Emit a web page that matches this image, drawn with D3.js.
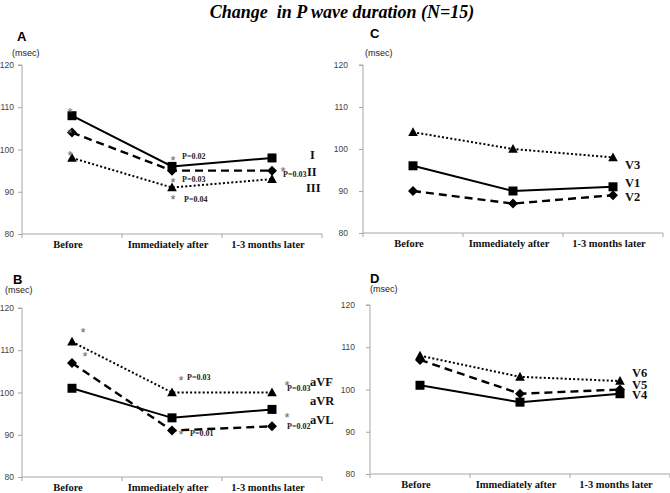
<!DOCTYPE html>
<html><head><meta charset="utf-8">
<script src="https://cdn.jsdelivr.net/npm/d3@7"></script>
<style>body{margin:0;background:#fff}</style>
</head><body>
<svg id="chart" width="670" height="493"></svg>
<script>
// ---------- data ----------
const categories = ["Before", "Immediately after", "1-3 months later"];
const yTicks = [80, 90, 100, 110, 120];
const titleText = "Change  in P wave duration (N=15)";

const panelA_I   = [108, 96, 98];
const panelA_II  = [104, 95, 95];
const panelA_III = [98, 91, 93];

const panelB_aVR = [101, 94, 96];
const panelB_aVL = [107, 91, 92];
const panelB_aVF = [112, 100, 100];

const panelC_V1 = [96, 90, 91];
const panelC_V2 = [90, 87, 89];
const panelC_V3 = [104, 100, 98];

const panelD_V4 = [101, 97, 99];
const panelD_V5 = [107, 99, 100];
const panelD_V6 = [108, 103, 102];

// annotations: [category index, pixel dx, value, text, kind]
const notesA = [
  [0,-2,109.3,"*","star"],[0,-2,104.4,"*","star"],[0,-2,99.2,"*","star"],
  [1,1,98.0,"*","star"],[1,10,98.5,"P=0.02","p"],
  [1,1,92.8,"*","star"],[1,10,93.0,"P=0.03","p"],
  [1,1,88.8,"*","star"],[1,12,88.3,"P=0.04","p"],
  [2,11,95.4,"*","star"],[2,11,94.2,"P=0.03","p"]
];
const notesB = [
  [0,11,114.8,"*","star"],[0,13,109.2,"*","star"],
  [1,9,103.4,"*","star"],[1,15,103.6,"P=0.03","p"],
  [1,9,90.7,"*","star"],[1,18,90.4,"P=0.01","p"],
  [2,15,102.2,"*","star"],[2,15,101.1,"P=0.03","p"],
  [2,15,94.7,"*","star"],[2,15,92.1,"P=0.02","p"]
];
const labelsA = [["I",38,98.9],["II",35,94.9],["III",34,91.1]];
const labelsB = [["aVF",38,102.5],["aVR",38,98.2],["aVL",38,93.7]];
const labelsC = [["V3",12,96.2],["V1",12,92.1],["V2",12,88.6]];
const labelsD = [["V6",12,104.1],["V5",12,101.3],["V4",12,98.7]];

const panels = [
  {letter:"A", x0:22, x1:322, yTop:65, yBot:234, tickGap:8,
   letterX:17, letterY:41, msecX:12, msecY:56,
   series:[[panelA_I,"square","solid"],[panelA_II,"diamond","dashed"],[panelA_III,"triangle","dotted"]],
   notes:notesA, labels:labelsA},
  {letter:"C", x0:363, x1:663, yTop:65, yBot:233, tickGap:15,
   letterX:370, letterY:38, msecX:365, msecY:56,
   series:[[panelC_V1,"square","solid"],[panelC_V2,"diamond","dashed"],[panelC_V3,"triangle","dotted"]],
   notes:[], labels:labelsC},
  {letter:"B", x0:22, x1:322, yTop:308, yBot:477, tickGap:8,
   letterX:13, letterY:284, msecX:5, msecY:293,
   series:[[panelB_aVR,"square","solid"],[panelB_aVL,"diamond","dashed"],[panelB_aVF,"triangle","dotted"]],
   notes:notesB, labels:labelsB},
  {letter:"D", x0:370, x1:670, yTop:305, yBot:474, tickGap:15,
   letterX:370, letterY:283, msecX:370, msecY:292,
   series:[[panelD_V4,"square","solid"],[panelD_V5,"diamond","dashed"],[panelD_V6,"triangle","dotted"]],
   notes:[], labels:labelsD}
];

const svg = d3.select("#chart");
const serif = "'Liberation Serif','Times New Roman',serif";
const sans = "'Liberation Sans',Arial,sans-serif";

svg.append("text").attr("x",342).attr("y",18).attr("text-anchor","middle")
  .attr("font-family",serif).attr("font-weight","bold").attr("font-style","italic")
  .attr("font-size",18).style("white-space","pre").text(titleText);

const dashes = {solid:null, dashed:"8,5", dotted:"2,2.2"};
const widths = {solid:2, dashed:2.4, dotted:2};

function markerPath(kind){
  if(kind==="square") return "M-4.5,-4.5H4.5V4.5H-4.5Z";
  if(kind==="diamond") return "M0,-5L5,0L0,5L-5,0Z";
  return "M0,-5L4.8,3.8H-4.8Z";
}

panels.forEach(p=>{
  const g = svg.append("g");
  const x = d3.scaleBand().domain(categories).range([p.x0,p.x1]).padding(0);
  const y = d3.scaleLinear().domain([80,120]).range([p.yBot,p.yTop]);
  const cx = i => x(categories[i]) + x.bandwidth()/2;

  // y axis
  const yAxis = g.append("g").attr("transform",`translate(${p.x0},0)`)
    .call(d3.axisLeft(y).tickValues(yTicks).tickSize(4).tickPadding(p.tickGap-4).tickFormat(d3.format("d")));
  yAxis.select(".domain").attr("stroke","#a6a6a6").attr("d",`M-4,${p.yTop}H0V${p.yBot}`);
  yAxis.selectAll(".tick line").attr("stroke","#a6a6a6");
  yAxis.selectAll(".tick text").attr("font-family",sans).attr("font-size",8.5).attr("fill","#444");

  // x axis
  const xAxis = g.append("g").attr("transform",`translate(0,${p.yBot})`)
    .call(d3.axisBottom(x).tickSize(0).tickPadding(6.5));
  xAxis.select(".domain").attr("stroke","#a6a6a6").attr("d",`M${p.x0},0H${p.x1}`);
  xAxis.selectAll(".tick text").attr("font-family",serif).attr("font-weight","bold")
    .attr("font-size",10.5).attr("fill","#111").attr("dx",-4);
  const bounds = categories.map(c=>x(c)).concat([p.x1]);
  g.selectAll(".xt").data(bounds).join("line").attr("class","xt")
    .attr("x1",d=>d).attr("x2",d=>d).attr("y1",p.yBot).attr("y2",p.yBot+4).attr("stroke","#a6a6a6");

  // panel letter & unit
  g.append("text").attr("x",p.letterX).attr("y",p.letterY).attr("font-family",sans)
    .attr("font-weight","bold").attr("font-size",13).text(p.letter);
  g.append("text").attr("x",p.msecX).attr("y",p.msecY).attr("font-family",sans)
    .attr("font-size",9).attr("fill","#222").text("(msec)");

  // series
  const line = d3.line().x((d,i)=>cx(i)).y(d=>y(d));
  p.series.forEach(([vals,shape,style])=>{
    g.append("path").attr("d",line(vals)).attr("fill","none").attr("stroke","#000")
      .attr("stroke-width",widths[style]).attr("stroke-dasharray",dashes[style]);
    g.selectAll(null).data(vals).join("path")
      .attr("d",markerPath(shape)).attr("fill","#000")
      .attr("transform",(d,i)=>`translate(${cx(i)},${y(d)})`);
  });

  // annotations
  p.notes.forEach(([ci,dx,v,t,kind])=>{
    if(kind==="star"){
      g.append("text").attr("x",cx(ci)+dx).attr("y",y(v)+7).attr("text-anchor","middle")
        .attr("font-family",sans).attr("font-size",13).attr("fill","#666").text(t);
    } else {
      g.append("text").attr("x",cx(ci)+dx).attr("y",y(v)+3).attr("font-family",serif)
        .attr("font-weight","bold").attr("font-size",8).attr("fill","#222").text(t);
    }
  });
  p.labels.forEach(([t,dx,v])=>{
    g.append("text").attr("x",cx(2)+dx).attr("y",y(v)+4.5).attr("font-family",serif)
      .attr("font-weight","bold").attr("font-size",12.5).attr("fill","#111").text(t);
  });
});
</script>
</body></html>
